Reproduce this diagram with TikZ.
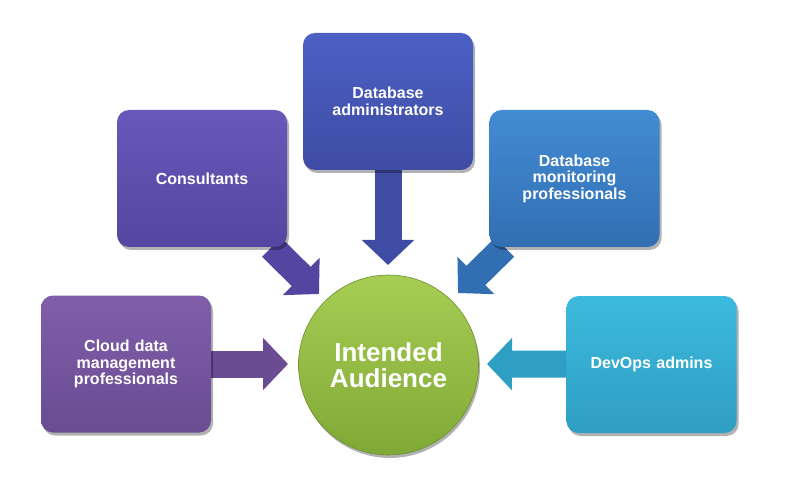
\documentclass[tikz,border=0pt]{standalone}
\usepackage{fontspec}
\setmainfont{Liberation Sans}
\usetikzlibrary{arrows.meta,shadows,backgrounds}
\definecolor{cloudT}{RGB}{128,94,170}
\definecolor{cloudB}{RGB}{105,76,146}
\definecolor{consT}{RGB}{104,88,186}
\definecolor{consB}{RGB}{84,70,160}
\definecolor{dbaT}{RGB}{76,96,196}
\definecolor{dbaB}{RGB}{62,76,164}
\definecolor{monT}{RGB}{66,140,212}
\definecolor{monB}{RGB}{50,110,178}
\definecolor{devT}{RGB}{60,186,222}
\definecolor{devB}{RGB}{46,158,194}
\definecolor{circT}{RGB}{166,206,84}
\definecolor{circB}{RGB}{128,168,54}
\tikzset{
  boxnode/.style={rectangle, rounded corners=12pt, minimum width=170pt,
    minimum height=137pt, text width=160pt, align=center, text=white,
    font=\fontsize{16}{16.5}\selectfont\bfseries,
    drop shadow={shadow xshift=2pt, shadow yshift=-3pt, opacity=0.3, fill=black}},
  fatarrow/.style={line width=27pt, line cap=butt, draw=#1,
    -{Triangle[length=25pt,width=51pt]}}
}
\begin{document}
\begin{tikzpicture}[x=1pt,y=-1pt]
\useasboundingbox (0,0) rectangle (796,500);
\node[boxnode, top color=cloudT, bottom color=cloudB] (cloud) at (126,364) {Cloud data\\management\\professionals};
\node[boxnode, top color=consT, bottom color=consB] (cons) at (202,178.5) {Consultants};
\node[boxnode, top color=dbaT, bottom color=dbaB] (dba) at (388,101.5) {Database\\administrators};
\node[boxnode, top color=monT, bottom color=monB] (mon) at (574.5,178.5) {Database\\monitoring\\professionals};
\node[boxnode, top color=devT, bottom color=devB] (dev) at (651.5,364.5) {DevOps admins};
\node[circle, minimum size=180pt, inner sep=0pt, top color=circT, bottom color=circB,
  draw=circB!85!black, line width=0.6pt, text=white, align=center,
  font=\fontsize{26}{26}\selectfont\bfseries,
  drop shadow={shadow xshift=1.5pt, shadow yshift=-3pt, opacity=0.3, fill=black}]
  (aud) at (388.5,365) {Intended\\Audience};
\coordinate (tcloud) at (288,364);
\coordinate (tcons) at (319,294);
\coordinate (tdba) at (388,265);
\coordinate (tmon) at (458,293);
\coordinate (tdev) at (487,364);
\begin{scope}[on background layer]
\fill[white] (0,0) rectangle (796,500);
\draw[fatarrow=cloudB] (cloud) -- (tcloud);
\draw[fatarrow=consB] (cons) -- (tcons);
\draw[fatarrow=dbaB] (dba) -- (tdba);
\draw[fatarrow=monB] (mon) -- (tmon);
\draw[fatarrow=devB] (dev) -- (tdev);
\end{scope}
\end{tikzpicture}
\end{document}
